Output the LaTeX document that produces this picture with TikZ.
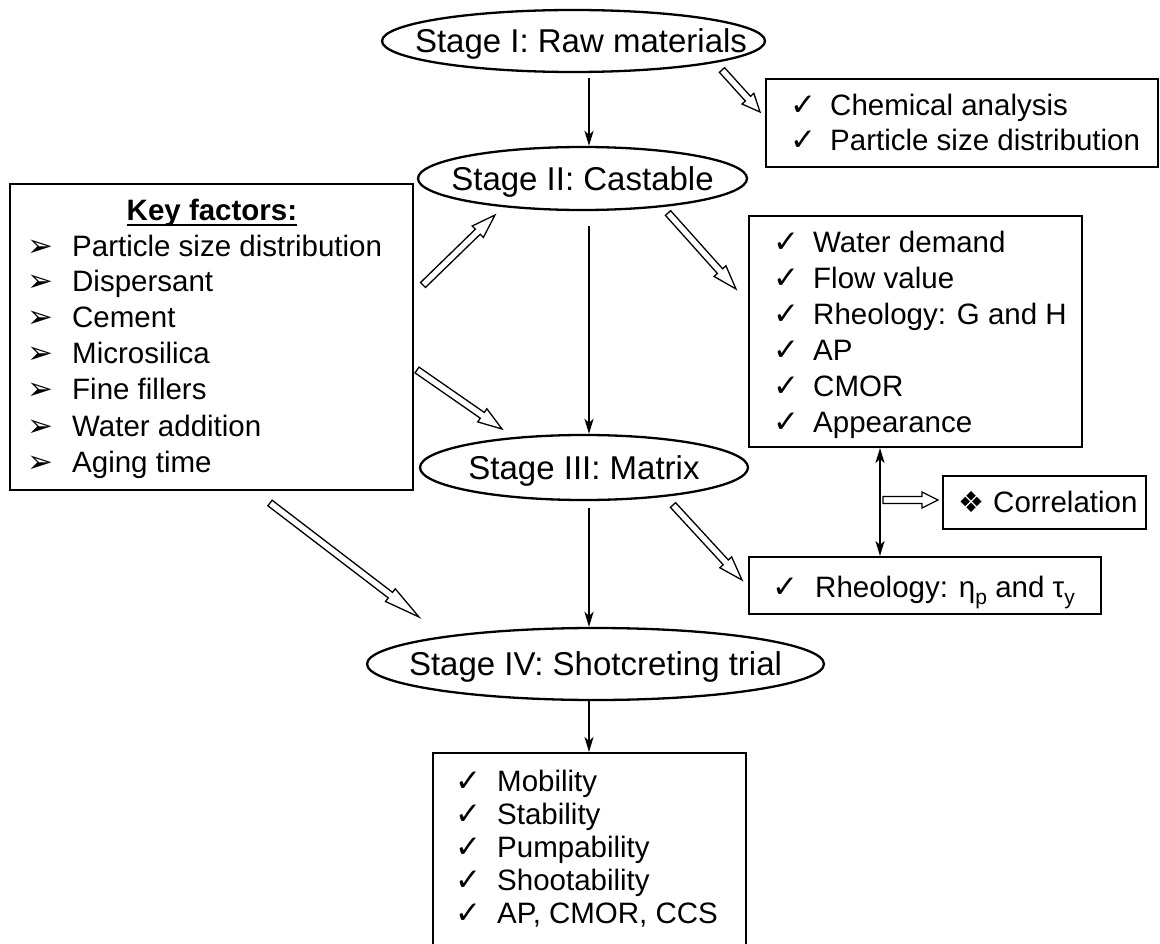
\documentclass[tikz,border=0pt]{standalone}
\usepackage{fontspec}
\setmainfont{Liberation Sans}
\newfontfamily\symfont{DejaVu Sans}
\usetikzlibrary{shapes.geometric,calc,arrows.meta}

% text sizes (1 unit = 1pt)
\newcommand\itemsize{\fontsize{29.5}{35.8}\selectfont}
\newcommand\stagesize{\fontsize{33}{40}\selectfont}
% list markers of a given box width
\newcommand\chk[1]{\makebox[#1][l]{\symfont\fontsize{31}{31}\selectfont ✓}}
\newcommand\bul[1]{\makebox[#1][l]{\symfont\fontsize{31}{31}\selectfont ➢}}
% text set inside an ellipse without enlarging it; #1 shifts it to the right
\newcommand\stagetext[2]{\smash{\makebox[0pt]{\hspace*{#1}\raisebox{-0.36em}{#2}}}}
% thick underline
\newcommand\ulbold[1]{\setbox0\hbox{#1}\rlap{\rule[-5.5pt]{\wd0}{2pt}}\box0}
% hollow block arrow: from, to, head length
\newcommand\hollow[3]{%
  \draw[hollowline]
    ($(#1)!3.5pt!90:(#2)$)
    -- ($($(#2)!#3!(#1)$)!3.5pt!90:(#2)$)
    -- ($($(#2)!#3!(#1)$)!8pt!90:(#2)$)
    -- (#2)
    -- ($($(#2)!#3!(#1)$)!8pt!-90:(#2)$)
    -- ($($(#2)!#3!(#1)$)!3.5pt!-90:(#2)$)
    -- ($(#1)!3.5pt!-90:(#2)$) -- cycle;}

\begin{document}
\begin{tikzpicture}[x=1pt,y=-1pt,
  stage/.style={draw, ellipse, line width=2.3pt, inner sep=0pt, font=\stagesize},
  box/.style={draw, rectangle, line width=2pt, inner sep=0pt, anchor=north west},
  txt/.style={inner sep=0pt, anchor=base west, font=\itemsize},
  flow/.style={line width=2pt, -{Stealth[length=15pt,width=9pt,inset=4pt]}},
  both/.style={line width=2pt, {Stealth[length=15pt,width=9pt,inset=4pt]}-{Stealth[length=15pt,width=9pt,inset=4pt]}},
  hollowline/.style={draw, fill=white, line width=1.3pt, line join=miter}]
\useasboundingbox (0,0) rectangle (1160,944);
\clip (0,0) rectangle (1160,944);

% main column
\coordinate (axis) at (589,0);
\node[stage, minimum width=383pt, minimum height=62pt] (s1) at (573.5,41)
  {\stagetext{15pt}{Stage I: Raw materials}};
\node[stage, minimum width=329pt, minimum height=63pt] (s2) at (582.5,178.5)
  {\stagetext{0pt}{Stage II: Castable}};
\node[stage, minimum width=328pt, minimum height=65pt] (s3) at (584,467.5)
  {\stagetext{0pt}{Stage III: Matrix}};
\node[stage, minimum width=457pt, minimum height=72pt] (s4) at (595.5,664)
  {\stagetext{0pt}{Stage IV: Shotcreting trial}};

\draw[flow, shorten <=5pt] (s1.south -| axis) -- (s2.north -| axis);
\draw[flow, shorten <=15pt] (s2.south -| axis) -- (s3.north -| axis);
\draw[flow, shorten <=7pt] (s3.south -| axis) -- (s4.north -| axis);

% raw materials tests
\node[box, minimum width=392pt, minimum height=88pt] (raw) at (765,78) {};
\node[txt] (raw1) at (790,116) {\chk{40pt}Chemical analysis};
\node[txt] (raw2) at (790,151) {\chk{40pt}Particle size distribution};

% key factors
\node[box, minimum width=403pt, minimum height=306pt] (key) at (9,183) {};
\node[inner sep=0pt, anchor=base, font=\itemsize\bfseries] (key0) at (212,221) {\ulbold{Key factors:}};
\node[txt] (key1) at (27,257) {\bul{45pt}Particle size distribution};
\node[txt] (key2) at (27,292) {\bul{45pt}Dispersant};
\node[txt] (key3) at (27,327) {\bul{45pt}Cement};
\node[txt] (key4) at (27,363) {\bul{45pt}Microsilica};
\node[txt] (key5) at (27,399) {\bul{45pt}Fine fillers};
\node[txt] (key6) at (27,436) {\bul{45pt}Water addition};
\node[txt] (key7) at (27,472) {\bul{45pt}Aging time};

% castable tests
\node[box, minimum width=333pt, minimum height=231pt] (cast) at (748,215) {};
\node[txt] (cast1) at (773,253) {\chk{40pt}Water demand};
\node[txt] (cast2) at (773,288.8) {\chk{40pt}Flow value};
\node[txt] (cast3) at (773,324.6) {\chk{40pt}Rheology: G and H};
\node[txt] (cast4) at (773,360.4) {\chk{40pt}AP};
\node[txt] (cast5) at (773,396.2) {\chk{40pt}CMOR};
\node[txt] (cast6) at (773,432) {\chk{40pt}Appearance};

% matrix test
\node[box, minimum width=352pt, minimum height=57pt] (mat) at (748,556) {};
\node[txt] (mat1) at (772,597) {\chk{43pt}Rheology: η\raisebox{-7pt}{\fontsize{21}{21}\selectfont p} and τ\raisebox{-7pt}{\fontsize{21}{21}\selectfont y}};

% correlation
\node[box, minimum width=203pt, minimum height=53pt] (cor) at (942,475) {};
\node[txt] (cor1) at (958,512) {\makebox[35pt][l]{\symfont\fontsize{29}{29}\selectfont ❖}Correlation};
\coordinate (dax) at (880,0);
\draw[both] (cast.south -| dax) -- (mat.north -| dax);

% shotcreting trial results (box runs past the lower edge)
\node[box, minimum width=313pt, minimum height=260pt] (shot) at (432,752) {};
\node[txt] (shot1) at (455,791) {\chk{42pt}Mobility};
\node[txt] (shot2) at (455,824) {\chk{42pt}Stability};
\node[txt] (shot3) at (455,857) {\chk{42pt}Pumpability};
\node[txt] (shot4) at (455,890) {\chk{42pt}Shootability};
\node[txt] (shot5) at (455,923) {\chk{42pt}AP, CMOR, CCS};
\draw[flow] (s4.south -| axis) -- (shot.north -| axis);

% hollow arrows
\coordinate (h1a) at (722,70);  \coordinate (h1b) at (760,112);
\coordinate (h2a) at (423,285); \coordinate (h2b) at (495,215);
\coordinate (h3a) at (668,213); \coordinate (h3b) at (736,289);
\coordinate (h4a) at (417,370); \coordinate (h4b) at (502,429);
\coordinate (h5a) at (270,503); \coordinate (h5b) at (419,617);
\coordinate (h6a) at (673,505); \coordinate (h6b) at (742,580);
\coordinate (h7a) at (883,500); \coordinate (h7b) at (938,500);
\hollow{h1a}{h1b}{18pt}
\hollow{h2a}{h2b}{24pt}
\hollow{h3a}{h3b}{24pt}
\hollow{h4a}{h4b}{24pt}
\hollow{h5a}{h5b}{36pt}
\hollow{h6a}{h6b}{24pt}
\hollow{h7a}{h7b}{16pt}
\end{tikzpicture}
\end{document}
